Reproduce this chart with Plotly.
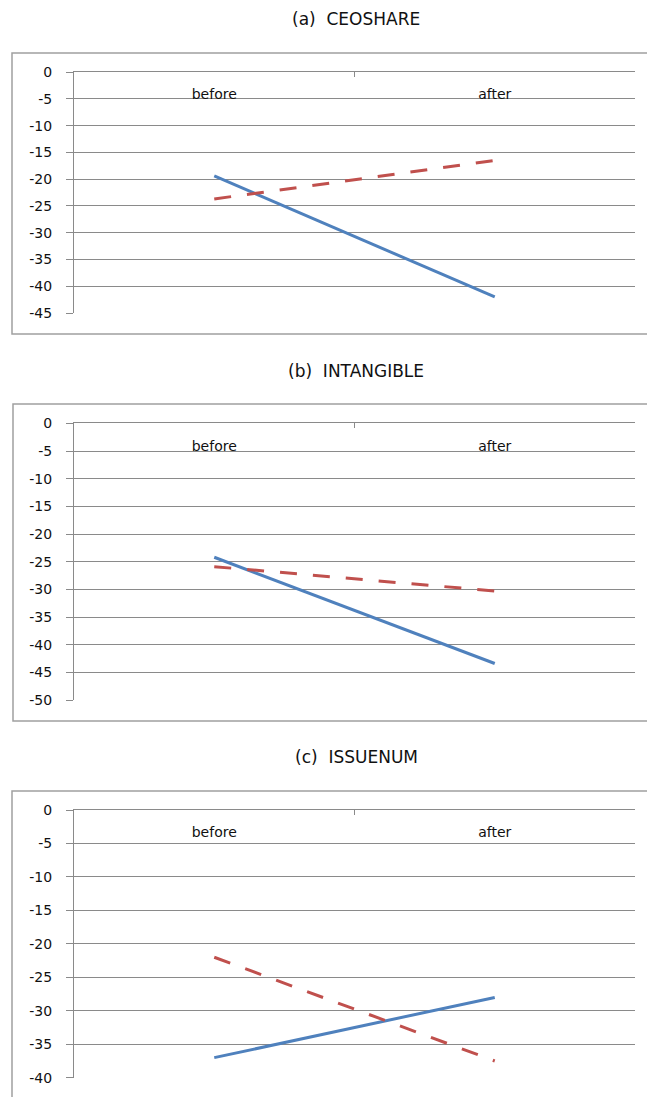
import plotly.graph_objects as go

W, H = 647, 1097

categories = ["before", "after"]
titles = ["(a)\u00a0\u00a0CEOSHARE", "(b)\u00a0\u00a0INTANGIBLE", "(c)\u00a0\u00a0ISSUENUM"]

ceoshare_blue = [-19.4, -42.0]
ceoshare_red = [-23.7, -16.5]
intangible_blue = [-24.2, -43.4]
intangible_red = [-25.9, -30.3]
issuenum_blue = [-37.0, -28.0]
issuenum_red = [-22.0, -37.5]

ceoshare_ticks = [0, -5, -10, -15, -20, -25, -30, -35, -40, -45]
intangible_ticks = [0, -5, -10, -15, -20, -25, -30, -35, -40, -45, -50]
issuenum_ticks = [0, -5, -10, -15, -20, -25, -30, -35, -40]

tick_sets = [ceoshare_ticks, intangible_ticks, issuenum_ticks]
blue_series = [ceoshare_blue, intangible_blue, issuenum_blue]
red_series = [ceoshare_red, intangible_red, issuenum_red]

# layout geometry in pixels (top, bottom of plot area)
plot_px = [(72, 313), (423.3, 700), (810, 1077.7)]
box_px = [(53, 334, 12), (404, 721, 13), (791, 1110, 12)]
title_px = [19, 371, 757]
x_px = (74, 635)
label_offset = 30  # px below the top axis line where category labels sit

BLUE = "#4F81BD"
RED = "#C0504D"
GRID = "#8A8A8A"
FONT = "DejaVu Sans"

fig = go.Figure()
layout = dict(
    width=W, height=H,
    margin=dict(l=0, r=0, t=0, b=0, autoexpand=False),
    paper_bgcolor="white", plot_bgcolor="white",
    showlegend=False,
    shapes=[], annotations=[],
)

def py(p):
    return 1 - p / H

for i in range(3):
    sfx = "" if i == 0 else str(i + 1)
    lsfx = str(i + 4)
    xa, ya, xl = "x" + sfx, "y" + sfx, "x" + lsfx
    fig.add_trace(go.Scatter(x=categories, y=blue_series[i], mode="lines",
                             line=dict(color=BLUE, width=3),
                             xaxis=xa, yaxis=ya, hoverinfo="skip"))
    fig.add_trace(go.Scatter(x=categories, y=red_series[i], mode="lines",
                             line=dict(color=RED, width=3, dash="17px,16px"),
                             xaxis=xa, yaxis=ya, hoverinfo="skip"))
    # carrier trace so the category-label axis is drawn
    fig.add_trace(go.Scatter(x=categories, y=[None, None], mode="lines",
                             xaxis=xl, yaxis=ya, hoverinfo="skip"))
    top, bot = plot_px[i]
    ticks = tick_sets[i]
    layout["xaxis" + sfx] = dict(
        domain=[x_px[0] / W, x_px[1] / W], anchor=ya,
        type="category", categoryorder="array", categoryarray=categories,
        range=[-0.5, 1.5], side="top", automargin=False,
        ticks="inside", tickson="boundaries", ticklen=5, tickcolor=GRID,
        showticklabels=False,
        showline=True, linecolor=GRID, linewidth=1,
        showgrid=False, zeroline=False, fixedrange=True,
    )
    layout["xaxis" + lsfx] = dict(
        domain=[x_px[0] / W, x_px[1] / W], overlaying=xa,
        anchor="free", position=py(top + label_offset), side="top",
        type="category", categoryorder="array", categoryarray=categories,
        range=[-0.5, 1.5], automargin=False,
        ticks="", showline=False, showgrid=False, zeroline=False,
        fixedrange=True, ticklabelstandoff=0,
        tickfont=dict(family=FONT, size=14, color="#111"),
    )
    layout["yaxis" + sfx] = dict(
        domain=[py(bot), py(top)], anchor=xa, automargin=False,
        range=[min(ticks), 0.01],
        tickmode="array", tickvals=ticks, ticktext=[str(t) for t in ticks],
        ticks="outside", ticklen=7, tickcolor=GRID,
        showline=True, linecolor=GRID, linewidth=1,
        showgrid=True, gridcolor=GRID, gridwidth=1,
        zeroline=False, fixedrange=True, ticklabelstandoff=11,
        tickfont=dict(family=FONT, size=14, color="#111"),
    )
    bt, bb, bl = box_px[i]
    layout["shapes"].append(dict(type="rect", xref="paper", yref="paper",
                                 x0=bl / W, x1=1.02, y0=py(bb), y1=py(bt),
                                 line=dict(color="#A0A0A0", width=1.5),
                                 fillcolor="rgba(0,0,0,0)", layer="below"))
    layout["annotations"].append(dict(text=titles[i], xref="paper", yref="paper",
                                      x=356 / W, y=py(title_px[i]),
                                      xanchor="center", yanchor="middle",
                                      showarrow=False,
                                      font=dict(family=FONT, size=17, color="#111")))

fig.update_layout(**layout)
fig.write_html("out.html", post_script="document.body.style.margin='0px';",
               config={"displayModeBar": False})
